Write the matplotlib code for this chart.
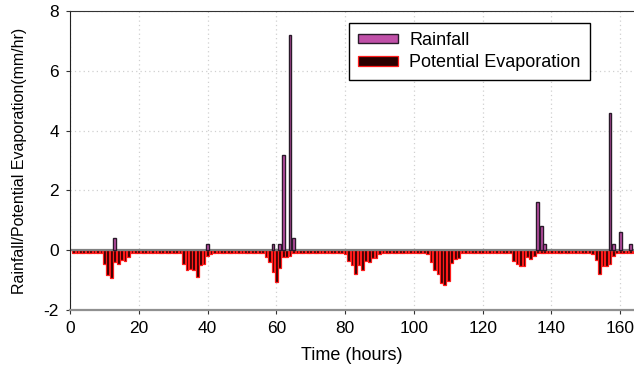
import numpy as np
import matplotlib.pyplot as plt

plt.rcParams['font.family'] = ['Liberation Sans', 'DejaVu Sans']
plt.rcParams['axes.unicode_minus'] = False

# rainfall (mm/hr), only hours with rain
rain_hours = [13, 40, 59, 61, 62, 64, 65, 136, 137, 138, 157, 158, 160, 163]
rain_values = [0.4, 0.2, 0.2, 0.2, 3.2, 7.2, 0.4, 1.6, 0.8, 0.2, 4.6, 0.2, 0.6, 0.2]

# potential evaporation (mm/hr), hours 0..164, one row per day
evap = [
    # 0-23
    0.0, -0.08, -0.08, -0.08, -0.08, -0.08, -0.08, -0.08, -0.08, -0.1, -0.45, -0.84,
    -0.93, -0.39, -0.45, -0.33, -0.36, -0.22, -0.11, -0.08, -0.08, -0.08, -0.08, -0.08,
    # 24-47
    -0.08, -0.08, -0.08, -0.08, -0.08, -0.08, -0.08, -0.08, -0.11, -0.45, -0.67, -0.64,
    -0.67, -0.89, -0.5, -0.47, -0.2, -0.13, -0.08, -0.08, -0.08, -0.08, -0.08, -0.08,
    # 48-71
    -0.08, -0.08, -0.08, -0.08, -0.08, -0.08, -0.08, -0.08, -0.11, -0.22, -0.39, -0.72,
    -1.06, -0.59, -0.22, -0.22, -0.2, -0.11, -0.08, -0.08, -0.08, -0.08, -0.08, -0.08,
    # 72-95
    -0.08, -0.08, -0.08, -0.08, -0.08, -0.08, -0.08, -0.08, -0.13, -0.36, -0.5, -0.78,
    -0.48, -0.65, -0.36, -0.39, -0.25, -0.25, -0.13, -0.08, -0.08, -0.08, -0.08, -0.08,
    # 96-119
    -0.08, -0.08, -0.08, -0.08, -0.08, -0.08, -0.08, -0.08, -0.13, -0.39, -0.65, -0.8,
    -1.11, -1.15, -1.03, -0.42, -0.31, -0.25, -0.11, -0.08, -0.08, -0.08, -0.08, -0.08,
    # 120-143
    -0.08, -0.08, -0.08, -0.08, -0.08, -0.08, -0.08, -0.08, -0.11, -0.36, -0.45, -0.52,
    -0.52, -0.22, -0.3, -0.2, -0.11, -0.08, -0.08, -0.08, -0.08, -0.08, -0.08, -0.08,
    # 144-164
    -0.08, -0.08, -0.08, -0.08, -0.08, -0.08, -0.08, -0.08, -0.13, -0.33, -0.8, -0.52,
    -0.52, -0.47, -0.19, -0.09, -0.08, -0.08, -0.08, -0.08, -0.08,
]
evap_hours = np.arange(len(evap))

fig = plt.figure(figsize=(6.34, 3.73), dpi=100)
ax = fig.add_axes([70 / 634, 63 / 373, 564 / 634, 299 / 373])

ax.grid(True, color='#d0d0d0', linestyle=(0, (1, 2.5)), linewidth=0.9)
ax.set_axisbelow(True)

ax.bar(evap_hours, evap, width=0.8, color='#2a0000', edgecolor='#ff1a1a',
       lw=0.9, label='Potential Evaporation', zorder=2)
ax.bar(rain_hours, rain_values, width=0.8, color='#c050a8', edgecolor='#2a1a2a',
       lw=1.0, label='Rainfall', zorder=3)
ax.axhline(0, color='#808080', lw=1.6, zorder=2.5)

ax.set_xlim(0, 164)
ax.set_ylim(-2, 8)
ax.set_xticks(range(0, 161, 20))
ax.set_yticks(range(-2, 9, 2))
ax.tick_params(labelsize=12.5, length=3, color='#333333', pad=5)

ax.spines['right'].set_visible(False)
ax.spines['bottom'].set_color('#909090')
ax.spines['bottom'].set_linewidth(1.6)
ax.spines['left'].set_color('#222222')
ax.spines['top'].set_color('#333333')

ax.set_xlabel('Time (hours)', fontsize=13, labelpad=8)
ax.set_ylabel('Rainfall/Potential Evaporation(mm/hr)', fontsize=11.5, labelpad=12)

h, l = ax.get_legend_handles_labels()
leg = ax.legend(h[::-1], l[::-1], loc='upper left', bbox_to_anchor=(0.494, 0.96),
                fontsize=13, handlelength=2.25, handleheight=0.4,
                handletextpad=0.6, fancybox=False, edgecolor='black',
                framealpha=1, borderpad=0.5, labelspacing=0.3,
                borderaxespad=0)
leg.get_frame().set_linewidth(1.0)

fig.savefig('out.png', dpi=100)
